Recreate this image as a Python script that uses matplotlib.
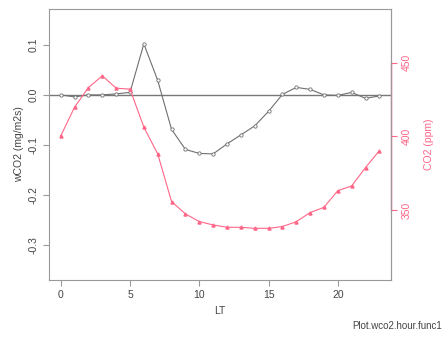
import matplotlib.pyplot as plt

plt.rcParams["font.family"] = ["Liberation Sans", "DejaVu Sans"]
plt.rcParams["font.size"] = 7.5

hours = list(range(24))
wco2 = [0.0, -0.004, 0.0, 0.0, 0.002, 0.005, 0.102, 0.029, -0.069, -0.109,
        -0.117, -0.118, -0.098, -0.08, -0.062, -0.033, 0.001, 0.015, 0.011,
        0.0, -0.001, 0.005, -0.007, -0.002]
co2 = [400.3, 419.9, 433.2, 441.2, 432.8, 432.1, 406.3, 388.1, 355.7, 347.3,
       342.1, 339.8, 338.2, 338.2, 337.5, 337.5, 338.7, 342.0, 348.2, 351.8,
       363.1, 366.3, 378.8, 390.3]

left_ticks = [-0.3, -0.2, -0.1, 0.0, 0.1]
right_ticks = [350, 400, 450]
x_ticks = [0, 5, 10, 15, 20]

gray = "#707070"
red = "#ff6688"
txt = "#444444"

fig = plt.figure(figsize=(4.45, 3.41), dpi=100)
ax = fig.add_axes([0.110, 0.179, 0.769, 0.795])

ax.axhline(0, color="#777777", lw=1.0, zorder=1)
ax.plot(hours, wco2, color=gray, lw=0.8, marker="o", ms=2.4,
        mfc="white", mec=gray, mew=0.6, zorder=3)
ax.set_xlim(-0.85, 23.85)
ax.set_ylim(-0.37, 0.172)
ax.set_xticks(x_ticks)
ax.set_yticks(left_ticks)
ax.set_yticklabels(["-0.3", "-0.2", "-0.1", "0.0", "0.1"], rotation=90, va="center")
ax.set_xlabel("LT", color=txt, labelpad=4)
ax.set_ylabel("wCO2 (mg/m2s)", color=txt, labelpad=3)
for s in ax.spines.values():
    s.set_color("#999999")
ax.tick_params(colors="#999999", labelcolor=txt, length=4, width=0.8)

ax2 = ax.twinx()
ax2.plot(hours, co2, color=red, lw=0.8, marker="^", ms=2.2, mfc=red, mec=red, zorder=2)
ax2.set_ylim(302.4, 486.7)
ax2.set_yticks(right_ticks)
ax2.set_yticklabels([str(t) for t in right_ticks], rotation=90, va="center")
ax2.set_ylabel("CO2 (ppm)", color=red, rotation=90, labelpad=9)
ax2.tick_params(axis="y", colors=red, labelcolor=red, length=4, width=0.8)
for s in ax2.spines.values():
    s.set_visible(False)
ax2.spines["right"].set_visible(True)
ax2.spines["right"].set_color("#999999")
ax2.axvline(23.85, ymin=(350 - 302.4) / (486.7 - 302.4),
            ymax=(450 - 302.4) / (486.7 - 302.4), color=red, lw=1.0, clip_on=False)

fig.text(0.993, 0.03, "Plot.wco2.hour.func1", ha="right", va="bottom",
         fontsize=7, color=txt)

fig.savefig("out.png", dpi=100)
